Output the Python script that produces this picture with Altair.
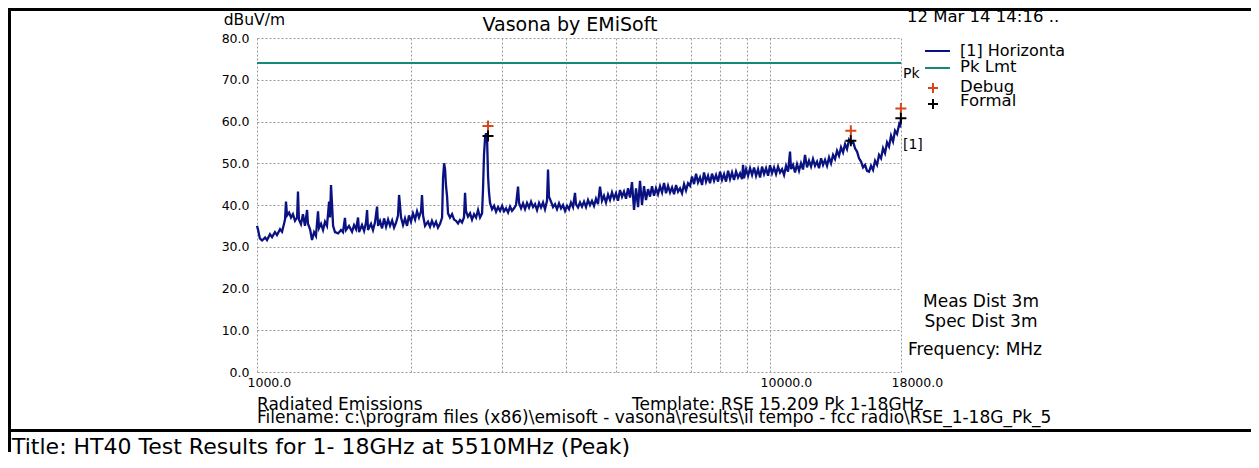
import altair as alt
import pandas as pd

# ---------------- data ----------------
freq_mhz = [
    1000, 1005, 1013, 1023, 1037, 1046, 1060, 1070, 1084, 1094, 1109, 1119, 1129, 1134, 1139, 1144,
    1155, 1165, 1175, 1186, 1197, 1202, 1207, 1218, 1229, 1240, 1252, 1257, 1269, 1280, 1292, 1303,
    1315, 1321, 1333, 1345, 1357, 1369, 1382, 1388, 1394, 1400, 1407, 1419, 1439, 1458, 1471, 1484,
    1491, 1511, 1532, 1546, 1560, 1574, 1581, 1602, 1617, 1631, 1639, 1646, 1668, 1683, 1698, 1714,
    1722, 1737, 1753, 1769, 1785, 1801, 1817, 1834, 1850, 1867, 1883, 1892, 1900, 1909, 1926, 1943,
    1961, 1978, 1996, 2014, 2033, 2051, 2069, 2088, 2097, 2107, 2126, 2154, 2174, 2193, 2213, 2233,
    2253, 2274, 2295, 2305, 2316, 2326, 2336, 2347, 2357, 2378, 2400, 2422, 2443, 2465, 2487, 2510,
    2532, 2544, 2555, 2578, 2602, 2625, 2649, 2673, 2697, 2721, 2746, 2758, 2770, 2783, 2795, 2808,
    2821, 2833, 2846, 2872, 2898, 2924, 2950, 2977, 3004, 3031, 3058, 3086, 3113, 3141, 3170, 3198,
    3227, 3242, 3271, 3300, 3330, 3360, 3390, 3421, 3452, 3483, 3514, 3546, 3578, 3610, 3642, 3675,
    3692, 3708, 3742, 3776, 3810, 3844, 3879, 3914, 3949, 3985, 4021, 4057, 4093, 4130, 4167, 4186,
    4224, 4262, 4300, 4339, 4378, 4418, 4457, 4497, 4538, 4579, 4620,
    4662, 4704, 4746, 4789, 4833, 4876, 4920, 4964, 5009, 5054, 5100, 5146, 5192, 5239, 5287, 5334,
    5382, 5431, 5480, 5530, 5579, 5629, 5680, 5731, 5784, 5835, 5888, 5941, 5994, 6048, 6104, 6159,
    6214, 6270, 6327, 6384, 6442, 6500, 6558, 6617, 6677, 6737, 6798, 6859, 6921, 6983, 7046, 7110,
    7174, 7238, 7304, 7370, 7436, 7503, 7571, 7639, 7708, 7778, 7848, 7919, 7990, 8062, 8135, 8208,
    8283, 8357, 8432, 8508, 8585, 8663, 8741, 8820, 8860, 8899, 8980, 9061, 9142, 9225, 9308, 9392,
    9477, 9562, 9648, 9735, 9823, 9912, 10000, 10090, 10181, 10273, 10366, 10459, 10554, 10649, 10745, 10842,
    10939, 10988, 11087, 11187, 11288, 11390, 11492, 11596, 11700, 11806, 11912, 12020, 12128, 12237, 12348, 12459,
    12572, 12686, 12800, 12915, 13032, 13149, 13268, 13387, 13507, 13629, 13753, 13877, 14002, 14128, 14255, 14384,
    14514, 14645, 14777, 14910, 15044, 15180, 15317, 15455, 15594, 15735, 15877, 16021, 16165, 16310, 16458, 16606,
    16756, 16907, 17059, 17213, 17368, 17525, 17683, 17842, 17923, 18000,
]
level_dbuv = [
    35.0, 34.0, 32.0, 31.5, 32.2, 31.6, 33.0, 32.3, 33.5, 32.8, 34.2, 33.6, 35.5, 36.5, 40.8, 37.5,
    38.2, 37.0, 37.8, 36.2, 37.0, 43.2, 36.5, 35.4, 37.8, 35.0, 38.8, 35.5, 34.2, 31.6, 33.5, 32.6,
    38.5, 34.5, 35.5, 34.0, 36.0, 35.0, 40.8, 37.0, 44.8, 40.5, 35.0, 33.5, 33.2, 34.0, 33.5, 36.9,
    34.0, 35.0, 33.6, 35.2, 34.2, 37.0, 33.5, 35.2, 33.8, 35.8, 38.8, 34.0, 35.5, 34.0, 35.8, 39.6,
    35.0, 36.2, 34.4, 36.8, 34.8, 36.5, 35.0, 36.3, 34.6, 35.8, 37.5, 42.4, 40.0, 37.0, 35.2, 36.8,
    35.0, 37.5, 36.0, 38.0, 36.5, 38.5, 37.0, 38.5, 42.4, 37.5, 35.0, 36.0, 34.8, 36.2, 35.0, 36.0,
    34.6, 35.5, 37.0, 46.5, 50.0, 48.5, 44.5, 42.0, 38.0, 37.0, 37.8, 36.5, 36.2, 35.6, 36.4, 35.8,
    37.0, 42.9, 38.5, 37.2, 38.0, 36.5, 37.8, 37.0, 38.8, 37.0, 38.0, 44.0, 52.0, 56.0, 57.2, 56.0,
    46.8, 43.0, 40.5, 39.0, 39.8, 38.4, 39.5, 38.6, 39.8, 38.5, 39.2, 38.2, 39.6, 38.6, 39.2, 40.0,
    44.4, 40.5, 39.2, 40.4, 39.0, 40.5, 39.4, 40.8, 39.5, 40.2, 38.8, 40.5, 39.4, 40.6, 39.0, 41.0,
    48.5, 42.0, 40.8, 39.5, 40.2, 39.0, 40.4, 39.2, 40.0, 38.6, 39.8, 39.0, 40.6, 39.5, 42.9, 40.2,
    39.4, 40.6, 39.6, 40.8, 39.5, 41.2, 40.0, 41.0, 39.8, 41.5, 40.2,
    44.4, 41.0, 42.2, 40.6, 42.5, 41.2, 43.0, 41.5, 42.8, 41.0, 43.6, 42.0, 43.2, 41.5, 44.0, 41.8,
    45.5, 38.8, 44.0, 39.5, 45.8, 40.0, 44.5, 41.2, 43.8, 42.0, 44.5, 42.2, 44.0, 42.6, 44.5, 43.0,
    45.3, 42.8, 44.6, 43.0, 44.2, 42.6, 44.8, 43.2, 44.0, 42.8, 45.0, 43.5, 45.2, 44.6, 46.8, 45.0,
    47.5, 45.4, 46.6, 44.8, 47.8, 45.6, 47.0, 45.2, 47.5, 45.8, 47.2, 45.6, 48.0, 46.0, 47.4, 45.6,
    48.2, 46.2, 47.8, 46.0, 48.0, 46.6, 47.6, 46.2, 49.6, 46.4, 48.6, 47.0, 48.8, 47.2, 49.0, 47.0,
    48.6, 46.6, 49.2, 47.4, 48.8, 47.0, 49.5, 47.6, 49.0, 47.4, 49.2, 47.8, 48.6, 47.2, 49.4, 48.0,
    52.8, 48.6, 49.6, 47.8, 49.8, 48.2, 50.0, 48.5, 52.0, 49.0, 50.6, 49.2, 51.0, 49.4, 50.4, 48.8,
    51.2, 49.6, 50.8, 49.4, 51.4, 50.0, 52.0, 51.0, 53.0, 51.8, 53.8, 52.6, 54.6, 53.4, 55.6, 54.8,
    55.2, 53.6, 52.8, 51.2, 50.4, 49.0, 49.6, 48.2, 48.0, 49.4, 48.4, 50.6, 49.6, 52.0, 51.2, 53.6,
    52.4, 55.0, 54.0, 56.6, 55.2, 57.8, 57.0, 59.2, 58.6, 60.6,
]
limit_freq = [1000, 18000]
limit_level = [74.0, 74.0]
debug_freq = [2820, 14370, 17990]
debug_level = [58.9, 57.8, 63.1]
formal_freq = [2820, 14370, 17990]
formal_level = [56.5, 55.4, 60.8]

x_grid = [1000, 2000, 3000, 4000, 5000, 6000, 7000, 8000, 9000, 10000, 18000]
x_labels = [1000, 10000, 18000]
y_ticks = [0, 10, 20, 30, 40, 50, 60, 70, 80]

chart_title = "Vasona by EMiSoft"
y_unit = "dBuV/m"
date_text = "12 Mar 14 14:16 .."
legend_names = ["[1] Horizonta", "Pk Lmt", "Debug", "Formal"]
pk_text = "Pk"
trace_tag = "[1]"
dist_lines = ["Meas Dist 3m", "Spec Dist 3m", "Frequency: MHz"]
footer_left = ["Radiated Emissions",
               r"Filename: c:\program files (x86)\emisoft - vasona\results\il tempo - fcc radio\RSE_1-18G_Pk_5"]
footer_right = "Template: RSE 15.209 Pk 1-18GHz"
caption = "Title: HT40 Test Results for 1- 18GHz at 5510MHz (Peak)"

# ---------------- styling ----------------
FONT = "DejaVu Sans"
NAVY = "#0a1282"
TEAL = "#138a78"
RED = "#d8461c"
GRID = "#9a9a9a"
PLUS = "M-1,0L1,0M0,-1L0,1"

W, H = 644, 334

xscale = alt.Scale(type="log", domain=[1000, 18000], nice=False)
yscale = alt.Scale(domain=[0, 80], nice=False, zero=False)

label_expr = f"indexof({x_labels}, datum.value) >= 0 ? format(datum.value, '.1f') : ''"

xaxis = alt.Axis(values=x_grid, labelExpr=label_expr, grid=True, gridDash=[2, 2], gridColor=GRID,
                 gridOpacity=1, ticks=False, domain=False, title=None, labelFont=FONT,
                 labelFontSize=12.5, labelColor="#000", labelAlign="left", labelOffset=-10,
                 labelPadding=4, labelOverlap=False, labelBound=False, labelFlush=False)
yaxis = alt.Axis(values=y_ticks, format=".1f", grid=True, gridDash=[2, 2], gridColor=GRID,
                 gridOpacity=1, ticks=False, domain=False, title=None, labelFont=FONT,
                 labelFontSize=12.5, labelColor="#000", labelPadding=8, labelOverlap=False)

trace_df = pd.DataFrame({"freq": freq_mhz, "level": level_dbuv})
limit_df = pd.DataFrame({"freq": limit_freq, "level": limit_level})
debug_df = pd.DataFrame({"freq": debug_freq, "level": debug_level})
formal_df = pd.DataFrame({"freq": formal_freq, "level": formal_level})

def xe():
    return alt.X("freq:Q", scale=xscale, axis=xaxis)

def ye():
    return alt.Y("level:Q", scale=yscale, axis=yaxis)

trace = alt.Chart(trace_df).mark_line(color=NAVY, strokeWidth=2.3).encode(x=xe(), y=ye())
limit = alt.Chart(limit_df).mark_line(color=TEAL, strokeWidth=2).encode(x=xe(), y=ye())
debug = alt.Chart(debug_df).mark_point(shape=PLUS, size=121, strokeWidth=2, color=RED,
                                       filled=False, opacity=1).encode(x=xe(), y=ye())
formal = alt.Chart(formal_df).mark_point(shape=PLUS, size=121, strokeWidth=2, color="#000",
                                         filled=False, opacity=1).encode(x=xe(), y=ye())

one = alt.Data(values=[{}])

def text(t, x, y, size=17, align="left", color="#000"):
    return alt.Chart(alt.Data(values=[{"t": t}])).mark_text(
        align=align, baseline="middle", font=FONT, fontSize=size, color=color
    ).encode(x=alt.value(x), y=alt.value(y), text="t:N")

def hline(x1, x2, y, color, width):
    return alt.Chart(one).mark_rule(color=color, strokeWidth=width).encode(
        x=alt.value(x1), x2=alt.value(x2), y=alt.value(y))

def vline(x, y1, y2, color, width):
    return alt.Chart(one).mark_rule(color=color, strokeWidth=width).encode(
        x=alt.value(x), y=alt.value(y1), y2=alt.value(y2))

def plus(x, y, color):
    return alt.Chart(one).mark_point(shape=PLUS, size=100, strokeWidth=2, color=color,
                                     filled=False, opacity=1).encode(x=alt.value(x), y=alt.value(y))

# plot origin is at page (257, 38)
annotations = [
    text(chart_title, 313, -13, size=19, align="center"),
    text(y_unit, 28, -18, size=15.5, align="right"),
    text(date_text, 650, -21, size=16.5),
    hline(668, 693, 13, NAVY, 2),
    hline(668, 693, 30, TEAL, 2),
    plus(676, 50, RED),
    plus(676, 66, "#000"),
    text(legend_names[0], 703, 13, size=16),
    text(legend_names[1], 703, 29, size=16.5),
    text(legend_names[2], 703, 49, size=16.5),
    text(legend_names[3], 703, 63, size=16.5),
    text(pk_text, 646, 36, size=14),
    text(trace_tag, 646, 107, size=14),
    text(dist_lines[0], 724, 264, size=17, align="center"),
    text(dist_lines[1], 724, 284, size=17, align="center"),
    text(dist_lines[2], 718, 312, size=17, align="center"),
    text(footer_left[0], 0, 367, size=17),
    text(footer_left[1], 0, 380, size=17),
    text(footer_right, 375, 367, size=17),
    hline(-249, 994, 392.5, "#000", 3),
    vline(-247.5, -30, 414, "#000", 3),
    hline(-249, 994, -28.5, "#000", 3),
    text(caption, -245, 409, size=22),
]

chart = alt.layer(trace, limit, debug, formal, *annotations).properties(
    width=W, height=H,
    padding={"left": 249, "top": 30, "right": 350, "bottom": 88},
    autosize=alt.AutoSizeParams(type="none"),
).configure(font=FONT, background="white").configure_view(stroke=None)

chart.save("out.html", embed_options={"renderer": "svg", "actions": False})
